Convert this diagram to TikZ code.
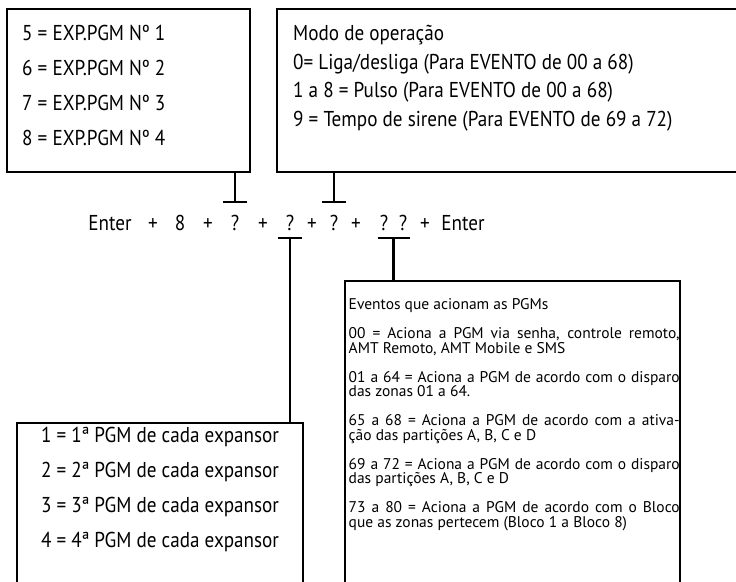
\documentclass[tikz,border=0pt]{standalone}
\usepackage{fontspec}
\setmainfont{PT Sans}[FakeStretch=0.89]
\newfontfamily\evfont{PT Sans}
\usetikzlibrary{arrows.meta,positioning}

\begin{document}
\begin{tikzpicture}[x=1pt,y=-1pt,
  frame/.style={draw,line width=2.4pt,anchor=north west,inner sep=0pt,outer sep=0pt},
  txt/.style={inner sep=0pt,text height=15pt,text depth=0pt,font=\fontsize{21.5}{26}\selectfont},
  evtxt/.style={inner sep=0pt,anchor=north west,font=\evfont\fontsize{15.5}{14.5}\selectfont},
  tee/.style={line width=2.4pt,-{Bar[width=#1]}},
  tee/.default=24pt]
  \useasboundingbox (0,0) rectangle (736,581);
  \clip (0,0) rectangle (736,581);
  % caixas
  \node[frame,minimum width=243pt,minimum height=163pt] (exp) at (7,9) {};
  \node[frame,minimum width=480pt,minimum height=163pt] (modo) at (277,9) {};
  \node[frame,minimum width=335pt,minimum height=340pt] (ev) at (345,281) {};
  \node[frame,minimum width=286pt,minimum height=200pt] (pgm) at (17,423) {};
  % textos das caixas
  \foreach \n [count=\i from 0] in {5,...,8}
    \node[txt,anchor=west] (exp-\n) at (22,{33+35*\i}) {{\n} = EXP.PGM Nº \the\numexpr\n-4\relax};
  \foreach \t [count=\i from 0] in {Modo de operação,
      0= Liga/desliga (Para EVENTO de 00 a 68),
      1 a 8 = Pulso (Para EVENTO de 00 a 68),
      9 = Tempo de sirene (Para EVENTO de 69 a 72)}
    \node[txt,anchor=west] (modo-\i) at (293,{33+28.5*\i}) {\t};
  \foreach \n in {1,...,4}
    \node[txt] (pgm-\n) at (160,{435+35*(\n-1)}) {{\n} = {\n}ª PGM de cada expansor};
  \node[evtxt] (ev-txt) at (348.5,298.5) {\parbox[t]{331pt}{%
    \evfont\fontsize{15.5}{14.5}\selectfont\parskip=14.5pt
    Eventos que acionam as PGMs\par
    00 = Aciona a PGM via senha, controle remoto,\linebreak AMT Remoto, AMT Mobile e SMS\par
    01 a 64 = Aciona a PGM de acordo com o disparo\linebreak das zonas 01 a 64.\par
    65 a 68 = Aciona a PGM de acordo com a ativa-\linebreak ção das partições A, B, C e D\par
    69 a 72 = Aciona a PGM de acordo com o disparo\linebreak das partições A, B, C e D\par
    73 a 80 = Aciona a PGM de acordo com o Bloco\linebreak que as zonas pertecem (Bloco 1 a Bloco 8)}};
  % sequencia
  \foreach \x/\t/\nm in {110/Enter/ea, 153/+/p1, 180/8/oito, 208/+/p2, 235/?/q1,
      263/+/p3, 290/?/q2, 312/+/p4, 334/?/q3, 356/+/p5, 384/?/q4, 403/?/q5,
      425/+/p6, 463/Enter/eb}
    \node[txt] (\nm) at (\x,223) {\t};
  \coordinate (q45) at (393.5,223);
  % ligacoes
  \draw[tee] (exp.south -| q1) -- ([yshift=20pt]q1.center);
  \draw[tee] (modo.south -| q3) -- ([yshift=20pt]q3.center);
  \draw[tee] (pgm.north -| q2) -- ([yshift=-14pt]q2.center);
  \draw[tee=32pt] (ev.north -| q45) -- ([yshift=-14pt]q45);
\end{tikzpicture}
\end{document}
